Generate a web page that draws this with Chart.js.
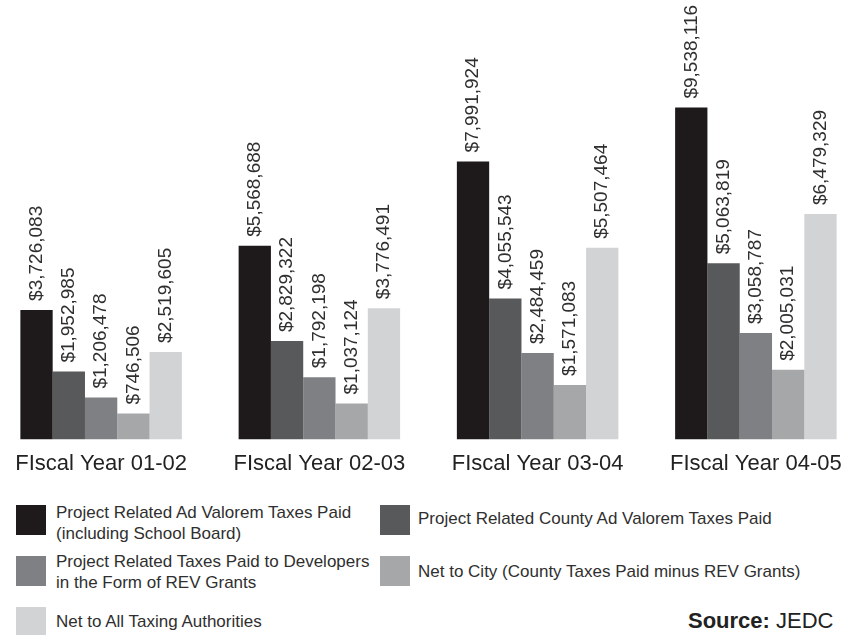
<!DOCTYPE html>
<html>
<head>
<meta charset="utf-8">
<script src="https://cdn.jsdelivr.net/npm/chart.js@4.4.0/dist/chart.umd.min.js"></script>
<style>
  html, body { margin: 0; padding: 0; background: #fff; overflow: hidden; }
  body { width: 846px; height: 635px; position: relative; font-family: "Liberation Sans", Arial, sans-serif; color: #2a2a2a; }
  #wrap { position: absolute; left: -8px; top: 0; width: 873px; height: 488px; }
  .sw { position: absolute; width: 30px; height: 30px; }
  .lt { position: absolute; font-size: 17px; line-height: 21px; color: #2f2f2f; white-space: nowrap; }
  #src { position: absolute; left: 688px; top: 608px; font-size: 22px; color: #222; white-space: nowrap; }
</style>
</head>
<body>
<div id="wrap"><canvas id="c"></canvas></div>

<div class="sw" style="left:16px;top:505px;background:#1e1a1b"></div>
<div class="lt" style="left:56px;top:502px">Project Related Ad Valorem Taxes Paid<br>(including School Board)</div>
<div class="sw" style="left:380px;top:505px;background:#58595b"></div>
<div class="lt" style="left:418px;top:508px">Project Related County Ad Valorem Taxes Paid</div>

<div class="sw" style="left:16px;top:556px;background:#7f8083"></div>
<div class="lt" style="left:56px;top:551px">Project Related Taxes Paid to Developers<br>in the Form of REV Grants</div>
<div class="sw" style="left:380px;top:556px;background:#a6a7a9"></div>
<div class="lt" style="left:418px;top:561px">Net to City (County Taxes Paid minus REV Grants)</div>

<div class="sw" style="left:16px;top:607px;background:#d2d3d5"></div>
<div class="lt" style="left:56px;top:611px">Net to All Taxing Authorities</div>

<div id="src"><b>Source:</b> JEDC</div>

<script>
// fiscal years
var years = ['FIscal Year 01-02', 'FIscal Year 02-03', 'FIscal Year 03-04', 'FIscal Year 04-05'];

var seriesNames = [
  'Project Related Ad Valorem Taxes Paid (including School Board)',
  'Project Related County Ad Valorem Taxes Paid',
  'Project Related Taxes Paid to Developers in the Form of REV Grants',
  'Net to City (County Taxes Paid minus REV Grants)',
  'Net to All Taxing Authorities'
];

var adValorem   = [3726083, 5568688, 7991924, 9538116];
var countyTaxes = [1952985, 2829322, 4055543, 5063819];
var revGrants   = [1206478, 1792198, 2484459, 3058787];
var netCity     = [746506, 1037124, 1571083, 2005031];
var netAll      = [2519605, 3776491, 5507464, 6479329];

var colors = ['#1e1a1b', '#58595b', '#7f8083', '#a6a7a9', '#d2d3d5'];

var allSeries = [adValorem, countyTaxes, revGrants, netCity, netAll];

function money(v) {
  return '$' + v.toLocaleString('en-US');
}

/* value labels, rotated, above each bar */
var barLabels = {
  id: 'barLabels',
  afterDatasetsDraw: function (chart) {
    var ctx = chart.ctx;
    ctx.save();
    ctx.font = '19px "Liberation Sans", Arial, sans-serif';
    ctx.fillStyle = '#2f2f2f';
    ctx.textAlign = 'left';
    ctx.textBaseline = 'middle';
    chart.data.datasets.forEach(function (ds, i) {
      chart.getDatasetMeta(i).data.forEach(function (bar, j) {
        ctx.save();
        ctx.translate(bar.x, bar.y - 9);
        ctx.rotate(-Math.PI / 2);
        ctx.fillText(money(ds.data[j]), 0, 0);
        ctx.restore();
      });
    });
    ctx.restore();
  }
};

new Chart(document.getElementById('c'), {
  type: 'bar',
  data: {
    labels: years,
    datasets: allSeries.map(function (d, i) {
      return {
        label: seriesNames[i],
        data: d,
        backgroundColor: colors[i],
        borderWidth: 0,
        barPercentage: 1,
        categoryPercentage: 0.74
      };
    })
  },
  options: {
    responsive: true,
    maintainAspectRatio: false,
    animation: false,
    layout: { padding: { top: 88, bottom: 8, left: 0, right: 0 } },
    plugins: { legend: { display: false }, tooltip: { enabled: false } },
    scales: {
      x: {
        grid: { display: false },
        border: { display: false },
        ticks: {
          color: '#222',
          font: { family: '"Liberation Sans", Arial, sans-serif', size: 22 },
          padding: 3
        }
      },
      y: {
        display: false,
        min: 0,
        max: 10100000
      }
    }
  },
  plugins: [barLabels]
});
</script>
</body>
</html>
